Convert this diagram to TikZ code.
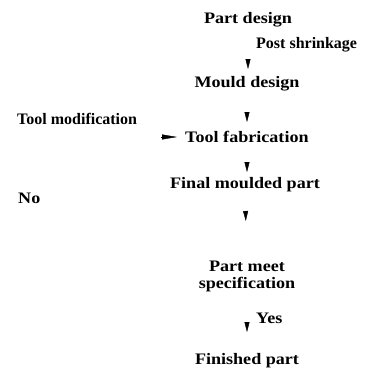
\documentclass[tikz,border=0pt]{standalone}
\usepackage{fontspec}
\setmainfont{Liberation Serif}
\usetikzlibrary{arrows.meta,positioning}
\tikzstyle{txt}=[font=\bfseries\fontsize{16}{17}\selectfont,inner sep=0pt,xscale=1.13,transform shape]
\tikzstyle{flow}=[-{Triangle[length=10pt,width=5pt]},line width=0.4pt]
\tikzstyle{side}=[-{Triangle[length=15pt,width=5pt]},line width=0.4pt]

\begin{document}
\begin{tikzpicture}[x=1pt,y=-1pt]
            \useasboundingbox (0,0) rectangle (373,378);
            \node (pd) [txt] at (248,20) {Part design};
            \node (ps) [txt,anchor=west,xscale=0.885] at (256,45) {Post shrinkage};
            \node (md) [txt] at (247,84) {Mould design};
            \node (tm) [txt,anchor=west,xscale=0.885] at (17,119) {Tool modification};
            \node (tf) [txt,anchor=west] at (185,137) {Tool fabrication};
            \node (fm) [txt] at (245,185) {Final moulded part};
            \node (no) [txt,anchor=west] at (18,198) {No};
            \node (pms) [txt,align=center] at (247,276) {Part meet\\specification};
            \node (yes) [txt,anchor=west] at (256,318) {Yes};
            \node (fp) [txt] at (247,361) {Finished part};

            \draw[flow,shorten <=40pt,shorten >=15pt] (pd.center) -- (pd.center |- md.center);
            \draw[flow,shorten <=29pt,shorten >=15pt] (md.center) -- (md.center |- tf.center);
            \draw[flow,shorten <=25pt,shorten >=13pt] (md.center |- tf.center) -- (md.center |- fm.center);
            \draw[flow,shorten <=26pt,shorten >=55pt] (fm.center) -- (pms.center);
            \draw[flow,shorten <=46pt,shorten >=29pt] (pms.center) -- (fp.center);
            \draw[side,shorten <=24pt,shorten >=8pt] (tm.east |- tf.west) -- (tf.west);
\end{tikzpicture}
\end{document}
